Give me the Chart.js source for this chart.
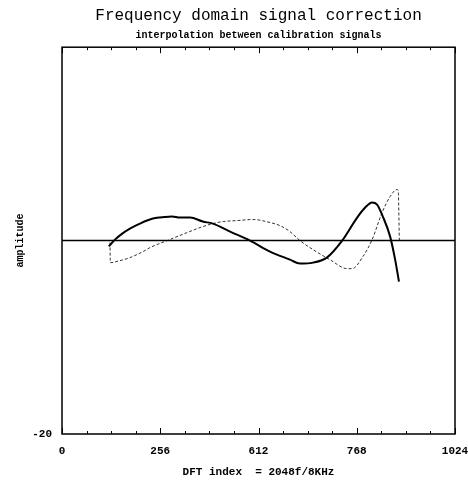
<!DOCTYPE html>
<html>
<head>
<meta charset="utf-8">
<script src="https://cdn.jsdelivr.net/npm/chart.js@4/dist/chart.umd.min.js"></script>
<style>
  html, body { margin: 0; padding: 0; background: #fff; }
  #wrap { width: 468px; height: 483px; }
</style>
</head>
<body>
<div id="wrap"><canvas id="c" width="468" height="483"></canvas></div>
<script>
// ---- data ----
const solidIndex = [122, 138, 156, 177, 203, 237, 268, 287, 307, 334, 367, 393, 438, 490, 542, 594, 620, 654, 690, 730, 769, 790, 808, 821, 836, 855, 868, 878];
const solidAmp   = [-0.6, 0.1, 0.7, 1.24, 1.76, 2.28, 2.44, 2.49, 2.38, 2.38, 1.97, 1.76, 0.93, 0, -1.14, -1.97, -2.38, -2.28, -1.76, 0, 2.38, 3.42, 3.94, 3.73, 2.49, 0.41, -1.97, -4.25];

const dashIndex = [125, 126, 151, 177, 211, 229, 274, 326, 367, 393, 420, 456, 498, 542, 568, 594, 620, 654, 698, 743, 756, 784, 808, 834, 855, 873, 876, 879];
const dashAmp   = [-0.2, -2.28, -2.07, -1.76, -1.14, -0.73, 0, 0.83, 1.45, 1.76, 1.97, 2.07, 2.18, 1.87, 1.55, 0.93, 0, -0.93, -1.97, -2.9, -2.9, -1.66, 0.1, 2.9, 4.56, 5.28, 5.18, 0];

const baselineIndex = [0, 1024];
const baselineAmp   = [0, 0];

const xTickValues = [0, 256, 512, 768, 1024];
const xTickLabels = ['0', '256', '612', '768', '1024'];
const yTickValues = [-20];
const yTickLabels = ['-20'];

const titleText    = 'Frequency domain signal correction';
const subtitleText = 'interpolation between calibration signals';
const xTitleText   = 'DFT index  = 2048f/8KHz';
const yTitleText   = 'amplitude';

// ---- build chart ----
const toXY = (xs, ys) => xs.map((x, i) => ({ x: x, y: ys[i] }));
const MONO = '"Liberation Mono", "DejaVu Sans Mono", monospace';

// centre the title blocks over the plot area rather than the whole canvas
const centerTitles = {
  id: 'centerTitles',
  afterLayout(chart) {
    const a = chart.chartArea;
    chart.boxes.forEach(b => {
      if (b.options && (b.options.text === titleText || b.options.text === subtitleText)) {
        b.left = a.left; b.right = a.right; b.width = a.right - a.left;
      }
    });
  }
};

const frameTicks = {
  id: 'frameTicks',
  afterDraw(chart) {
    const { ctx, chartArea: a, scales } = chart;
    const xs = scales.x;
    ctx.save();
    ctx.strokeStyle = '#000';
    ctx.lineWidth = 1;
    for (let v = 0; v <= 1024; v += 64) {
      const px = Math.round(xs.getPixelForValue(v)) + 0.5;
      const len = (v % 256 === 0) ? 6 : 3;
      ctx.beginPath();
      ctx.moveTo(px, a.bottom); ctx.lineTo(px, a.bottom - len);
      ctx.moveTo(px, a.top); ctx.lineTo(px, a.top + len);
      ctx.stroke();
    }
    ctx.lineWidth = 1.5;
    ctx.strokeRect(a.left, a.top, a.right - a.left, a.bottom - a.top);
    ctx.restore();
  }
};

new Chart(document.getElementById('c'), {
  type: 'line',
  data: {
    datasets: [
      { data: toXY(baselineIndex, baselineAmp), borderColor: '#000', borderWidth: 1.5, pointRadius: 0, tension: 0 },
      { data: toXY(solidIndex, solidAmp), borderColor: '#000', borderWidth: 2, pointRadius: 0, cubicInterpolationMode: 'monotone' },
      { data: toXY(dashIndex, dashAmp), borderColor: '#333', borderWidth: 1, borderDash: [3, 2], pointRadius: 0, cubicInterpolationMode: 'monotone' }
    ]
  },
  options: {
    responsive: false,
    animation: false,
    devicePixelRatio: 1,
    layout: { padding: { top: 0, right: 13, left: 0, bottom: 0 } },
    plugins: {
      legend: { display: false },
      tooltip: { enabled: false },
      title: {
        display: true, text: titleText, color: '#000',
        font: { family: MONO, size: 16, weight: 'normal' },
        padding: { top: 6, bottom: 4 }
      },
      subtitle: {
        display: true, text: subtitleText, color: '#000',
        font: { family: MONO, size: 10, weight: 'bold' },
        padding: { top: 0, bottom: 6 }
      }
    },
    scales: {
      x: {
        type: 'linear', min: 0, max: 1024,
        afterBuildTicks(s) { s.ticks = xTickValues.map(v => ({ value: v })); },
        afterFit(s) { s.height = 49; s.paddingLeft = 0; s.paddingRight = 0; },
        ticks: {
          autoSkip: false, maxRotation: 0, color: '#000', padding: 11,
          font: { family: MONO, size: 11, weight: 'bold' },
          callback: (v) => { const i = xTickValues.indexOf(v); return i >= 0 ? xTickLabels[i] : ''; }
        },
        grid: { drawOnChartArea: false, drawTicks: false },
        border: { display: false },
        title: {
          display: true, text: xTitleText, color: '#000',
          font: { family: MONO, size: 11, weight: 'bold' },
          padding: { top: 0, bottom: 4 }
        }
      },
      y: {
        type: 'linear', min: -20, max: 20,
        afterBuildTicks(s) { s.ticks = yTickValues.map(v => ({ value: v })); },
        afterFit(s) { s.width = 62; s.paddingTop = 0; s.paddingBottom = 0; },
        ticks: {
          color: '#000', padding: 10,
          font: { family: MONO, size: 11, weight: 'bold' },
          callback: (v) => { const i = yTickValues.indexOf(v); return i >= 0 ? yTickLabels[i] : ''; }
        },
        grid: { drawOnChartArea: false, drawTicks: false },
        border: { display: false },
        title: {
          display: true, text: yTitleText, color: '#000',
          font: { family: MONO, size: 10, weight: 'bold' },
          padding: { top: 14, bottom: 0 }
        }
      }
    }
  },
  plugins: [centerTitles, frameTicks]
});
</script>
</body>
</html>
